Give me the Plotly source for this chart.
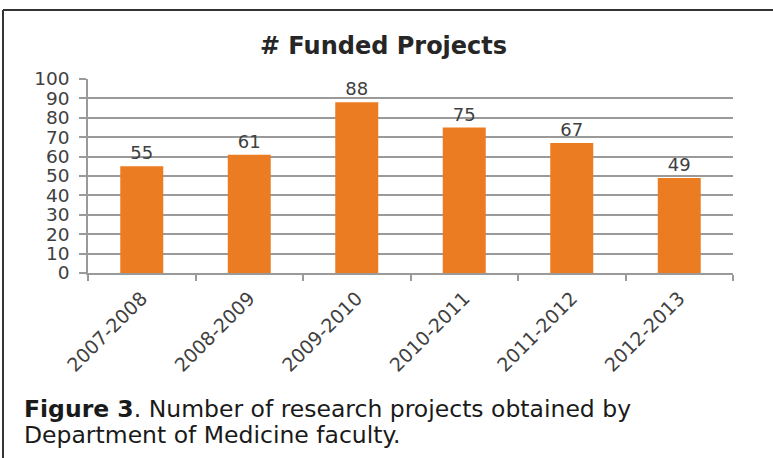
import plotly.graph_objects as go

categories = ["2007-2008", "2008-2009", "2009-2010", "2010-2011", "2011-2012", "2012-2013"]
values = [55, 61, 88, 75, 67, 49]
title_text = "# Funded Projects"
caption_line1 = "<b>Figure 3</b>. Number of research projects obtained by"
caption_line2 = "Department of Medicine faculty."

W, H = 773, 458
L, R, T, B = 88, 40, 79, 185
pw = W - L - R
ph = H - T - B

def px_x(x):
    return (x - L) / pw

def px_y(y):
    return (H - B - y) / ph

GRID = "#9A9A9A"

fig = go.Figure(go.Bar(
    x=categories, y=values,
    marker=dict(color="#EC7C22", line=dict(width=0)),
    text=[str(v) for v in values], textposition="outside",
    textfont=dict(family="DejaVu Sans", size=18, color="#404040"),
    cliponaxis=False,
))

fig.update_layout(
    width=W, height=H,
    margin=dict(l=L, r=R, t=T, b=B, autoexpand=False),
    paper_bgcolor="white", plot_bgcolor="white",
    bargap=0.6,
    showlegend=False,
    font=dict(family="DejaVu Sans", color="#404040"),
    title=dict(text="<b>" + title_text + "</b>", x=383.5 / W, xanchor="center",
               y=1 - 46 / H, yanchor="middle",
               font=dict(family="DejaVu Sans", size=24, color="#262626")),
)

fig.update_yaxes(
    range=[0, 100], dtick=10, showgrid=True, gridcolor=GRID, gridwidth=1.6,
    showline=True, linecolor=GRID, linewidth=1.6,
    ticks="outside", ticklen=7, tickcolor=GRID, tickwidth=1.6,
    tickfont=dict(family="DejaVu Sans", size=18.5, color="#404040"),
    ticklabelstandoff=6,
    zeroline=False, fixedrange=True, automargin=False,
)
fig.update_xaxes(
    tickangle=-45, tickson="boundaries", ticks="outside", ticklen=6,
    tickcolor=GRID, tickwidth=1.6,
    showline=True, linecolor=GRID, linewidth=1.6,
    showgrid=False, automargin=False,
    ticklabelstandoff=5,
    tickfont=dict(family="DejaVu Sans", size=19, color="#404040"),
)

# frame lines (left and top)
fig.add_shape(type="line", xref="paper", yref="paper",
              x0=px_x(3), x1=px_x(3), y0=px_y(10), y1=px_y(460),
              line=dict(color="#333333", width=2))
fig.add_shape(type="line", xref="paper", yref="paper",
              x0=px_x(3), x1=px_x(775), y0=px_y(10), y1=px_y(10),
              line=dict(color="#333333", width=2))

for txt, yc in [(caption_line1, 408.5), (caption_line2, 434.5)]:
    fig.add_annotation(
        text=txt,
        xref="paper", yref="paper", x=px_x(22), y=px_y(yc), xanchor="left", yanchor="middle",
        align="left", showarrow=False,
        font=dict(family="DejaVu Sans", size=23.5, color="#1a1a1a"),
    )

fig.write_html("out.html", config={"displayModeBar": False},
               post_script="document.body.style.margin='0';")
